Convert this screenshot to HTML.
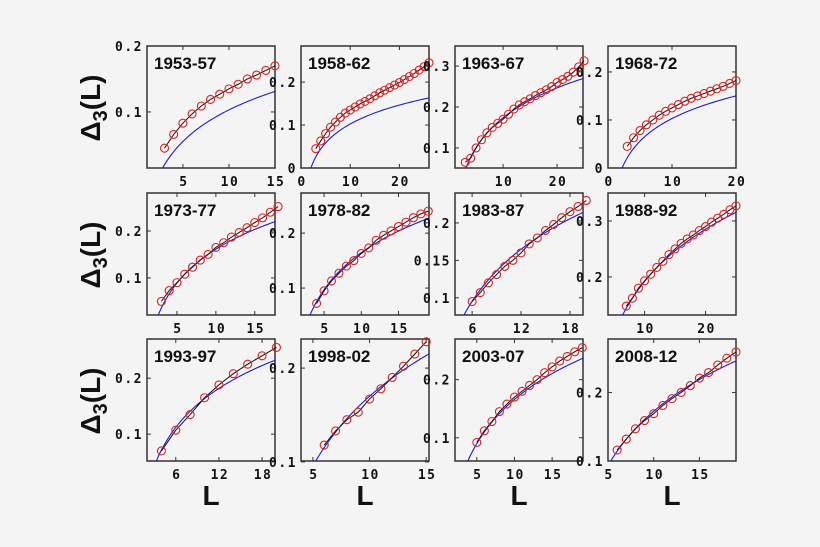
<!DOCTYPE html>
<html><head><meta charset="utf-8">
<style>
html,body{margin:0;padding:0;background:#f4f4f4;}
svg{display:block;}
.tk{font-family:"DejaVu Sans Mono","Liberation Mono",monospace;font-weight:bold;font-size:13px;letter-spacing:1.5px;fill:#111;}
.ttl{font-family:"Liberation Sans Narrow","Liberation Sans",sans-serif;font-weight:bold;font-size:17px;fill:#111;}
.big{font-family:"Liberation Sans",sans-serif;font-weight:bold;fill:#111;}
</style></head>
<body>
<svg id="fig" width="820" height="547" viewBox="0 0 820 547" xmlns="http://www.w3.org/2000/svg">
<rect x="0" y="0" width="820" height="547" fill="#f4f4f4"/>
</svg>
<script>
// ---- data ----
const periods = ["1953-57","1958-62","1963-67","1968-72","1973-77","1978-82","1983-87","1988-92","1993-97","1998-02","2003-07","2008-12"];
const L1953 = [3,4,5,6,7,8,9,10,11,12,13,14,15];
const D1953 = [.045,.066,.083,.097,.109,.119,.127,.135,.142,.150,.156,.163,.170];
const L1958 = [3,4,5,6,7,8,9,10,11,12,13,14,15,16,17,18,19,20,21,22,23,24,25,26];
const D1958 = [.045,.063,.080,.095,.107,.118,.128,.135,.142,.149,.155,.161,.168,.175,.181,.187,.193,.199,.206,.213,.220,.228,.236,.245];
const L1963 = [3,4,5,6,7,8,9,10,11,12,13,14,15,16,17,18,19,20,21,22,23,24,25];
const D1963 = [.065,.075,.100,.120,.137,.150,.160,.170,.182,.195,.205,.213,.220,.228,.235,.242,.250,.260,.267,.275,.285,.298,.313];
const L1968 = [3,4,5,6,7,8,9,10,11,12,13,14,15,16,17,18,19,20];
const D1968 = [.045,.063,.078,.090,.100,.110,.118,.125,.132,.139,.145,.150,.155,.160,.165,.170,.176,.182];
const L1973 = [3,4,5,6,7,8,9,10,11,12,13,14,15,16,17,18];
const D1973 = [.050,.073,.090,.108,.123,.138,.150,.165,.175,.187,.197,.207,.218,.228,.240,.252];
const L1978 = [4,5,6,7,8,9,10,11,12,13,14,15,16,17,18,19];
const D1978 = [.072,.095,.113,.127,.140,.150,.163,.173,.187,.196,.204,.212,.220,.228,.235,.240];
const L1983 = [6,7,8,9,10,11,12,13,14,15,16,17,18,19,20];
const D1983 = [.095,.107,.120,.131,.142,.150,.160,.172,.180,.190,.198,.207,.215,.222,.230];
const L1988 = [7,8,9,10,11,12,13,14,15,16,17,18,19,20,21,22,23,24,25];
const D1988 = [.148,.162,.180,.193,.205,.217,.228,.240,.250,.260,.268,.275,.283,.290,.298,.305,.312,.320,.327];
const L1993 = [4,6,8,10,12,14,16,18,20];
const D1993 = [.070,.107,.135,.165,.188,.208,.225,.240,.255];
const L1998 = [6,7,8,9,10,11,12,13,14,15];
const D1998 = [.118,.133,.145,.153,.167,.178,.190,.202,.215,.228];
const L2003 = [5,6,7,8,9,10,11,12,13,14,15,16,17,18,19];
const D2003 = [.092,.112,.128,.145,.158,.170,.180,.190,.200,.212,.222,.232,.240,.248,.255];
const L2008 = [6,7,8,9,10,11,12,13,14,15,16,17,18,19];
const D2008 = [.116,.132,.147,.159,.169,.181,.191,.200,.210,.221,.229,.240,.250,.259];
const obsL = [L1953,L1958,L1963,L1968,L1973,L1978,L1983,L1988,L1993,L1998,L2003,L2008];
const obsD = [D1953,D1958,D1963,D1968,D1973,D1978,D1983,D1988,D1993,D1998,D2003,D2008];
// theory curve parameters: a*ln(L)+b
const theoryA = [0.0691,0.0636,0.1054,0.068,0.1039,0.097,0.1003,0.1345,0.1005,0.107,0.1096,0.1143];
const theoryB = [-0.056,-0.044,-0.069,-0.0536,-0.078,-0.059,-0.0844,-0.1176,-0.068,-0.0764,-0.0863,-0.0906];
// axis ranges and ticks
const xMin = [1.1,0,1.1,0,1.15,1.9,3.9,4,2.0,3.95,2.1,5];
const xMax = [15,26,24.8,20,17.6,19.1,19.6,25,19.8,15.25,19.1,19];
const yMin = [0.015,0,0.051,0,0.021,0.051,0.077,0.132,0.052,0.101,0.06,0.1];
const yMax = [0.2,0.284,0.349,0.254,0.281,0.273,0.24,0.35,0.27,0.231,0.27,0.278];
const xTicks = [[5,10,15],[0,10,20],[10,20],[0,10,20],[5,10,15],[5,10,15],[6,12,18],[10,20],[6,12,18],[5,10,15],[5,10,15],[5,10,15]];
const yTicks = [[0.1,0.2],[0,0.1,0.2],[0.1,0.2,0.3],[0,0.1,0.2],[0.1,0.2],[0.1,0.2],[0.1,0.15,0.2],[0.2,0.3],[0.1,0.2],[0.1,0.2],[0.1,0.2],[0.1,0.2]];

// ---- layout ----
const colX = [147,301,455,608];
const rowY = [46,193,339];
const PW = 128, PH = 122;
const NS = "http://www.w3.org/2000/svg";
const svg = document.getElementById("fig");
function mk(tag, attrs, parent){
  const e = document.createElementNS(NS, tag);
  for (const k in attrs) e.setAttribute(k, attrs[k]);
  (parent||svg).appendChild(e);
  return e;
}
function fmt(v){ return (v===0) ? "0" : String(v); }

periods.forEach((p, i) => {
  const c = i % 4, r = Math.floor(i / 4);
  const x0 = colX[c], y0 = rowY[r];
  const sx = v => x0 + (v - xMin[i]) / (xMax[i] - xMin[i]) * PW;
  const sy = v => y0 + PH - (v - yMin[i]) / (yMax[i] - yMin[i]) * PH;
  const g = mk("g", {});
  
  
  const cp = mk("clipPath", {id: "clip" + i}, g);
  mk("rect", {x: x0, y: y0, width: PW, height: PH}, cp);
  const frame = mk("rect", {x: x0, y: y0, width: PW, height: PH, fill: "#f4f4f4", stroke: "#333", "stroke-width": 1.5}, g);
  
  
  xTicks[i].forEach(t => {
    const X = sx(t);
    mk("line", {x1: X, x2: X, y1: y0 + PH, y2: y0 + PH - 4, stroke: "#333"}, g);
    mk("line", {x1: X, x2: X, y1: y0, y2: y0 + 4, stroke: "#333"}, g);
    const tl = mk("text", {x: X + 1, y: y0 + PH + 18, "text-anchor": "middle", class: "tk"}, g);
    tl.textContent = fmt(t);
    
    
  });
  yTicks[i].forEach(t => {
    const Y = sy(t);
    mk("line", {x1: x0, x2: x0 + 4, y1: Y, y2: Y, stroke: "#333"}, g);
    mk("line", {x1: x0 + PW, x2: x0 + PW - 4, y1: Y, y2: Y, stroke: "#333"}, g);
    const tl = mk("text", {x: x0 - 4, y: Y + 5, "text-anchor": "end", class: "tk"}, g);
    tl.textContent = fmt(t);
    
    
  });
  let d = "";
  for (let k = 0; k <= 80; k++) {
    const L = Math.max(0.3, xMin[i] + (xMax[i] - xMin[i]) * k / 80);
    const v = theoryA[i] * Math.log(L) + theoryB[i];
    d += (k ? "L" : "M") + sx(L).toFixed(2) + "," + sy(v).toFixed(2);
  }
  const th = mk("path", {d: d, fill: "none", stroke: "#1a1adf", "stroke-width": 1.1, "clip-path": "url(#clip" + i + ")"}, g);
  
  
  const Ls = obsL[i], Ds = obsD[i];
  let d2 = "";
  Ls.forEach((L, k) => { d2 += (k ? "L" : "M") + sx(L).toFixed(2) + "," + sy(Ds[k]).toFixed(2); });
  const ol = mk("path", {d: d2, fill: "none", stroke: "#111", "stroke-width": 1}, g);
  
  
  Ls.forEach((L, k) => {
    const ci = mk("circle", {cx: sx(L), cy: sy(Ds[k]), r: 4, fill: "none", stroke: "#e02020", "stroke-width": 1.1}, g);
    
    
  });
  const tt = mk("text", {x: x0 + 7, y: y0 + 23, class: "ttl"}, g);
  tt.textContent = p;
  
  
});

rowY.forEach((y, r) => {
  const cy = y + 62;
  const t = mk("text", {x: 0, y: 0, class: "big", "font-size": 28, "text-anchor": "middle", transform: "translate(100," + cy + ") rotate(-90)"});
  t.innerHTML = 'Δ<tspan dy="7" font-size="20">3</tspan><tspan dy="-7">(L)</tspan>';
  
  
});
colX.forEach(x => {
  const t = mk("text", {x: x + PW / 2, y: 505, class: "big", "font-size": 28, "text-anchor": "middle"});
  t.textContent = "L";
  
  
});
</script>
</body></html>
